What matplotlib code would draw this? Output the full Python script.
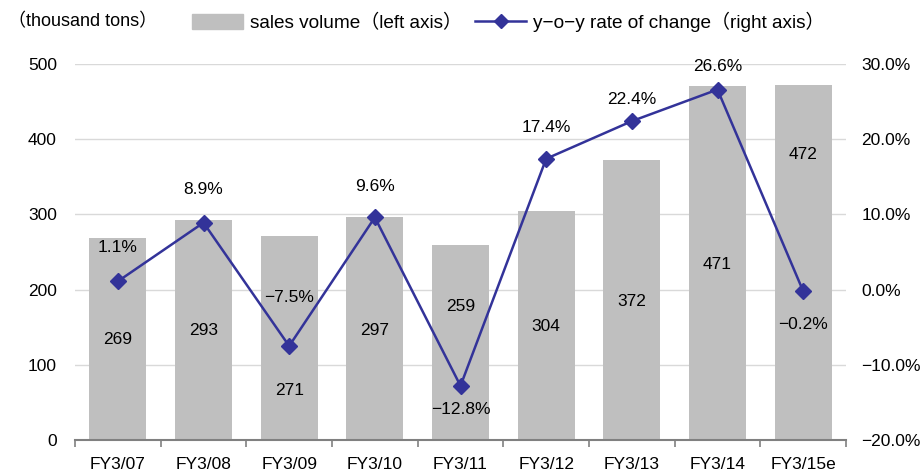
import matplotlib
matplotlib.use("Agg")
import matplotlib.pyplot as plt
from matplotlib.lines import Line2D
from matplotlib.patches import Patch

categories = ["FY3/07", "FY3/08", "FY3/09", "FY3/10", "FY3/11",
              "FY3/12", "FY3/13", "FY3/14", "FY3/15e"]
volume = [269, 293, 271, 297, 259, 304, 372, 471, 472]
yoy = [1.1, 8.9, -7.5, 9.6, -12.8, 17.4, 22.4, 26.6, -0.2]
# label placement (layout only)
vol_label_y = [133, 146, 66, 146, 178, 151, 184, 234, 380]
yoy_label_off = [4.5, 4.4, 6.4, 4.1, -3.2, 4.1, 2.9, 3.1, -4.4]

FAM = ['Liberation Sans', 'Noto Sans CJK JP', 'DejaVu Sans']
plt.rcParams['font.family'] = FAM
BAR = "#bfbfbf"
LINE = "#333399"
FS = 12.5

fig = plt.figure(figsize=(9.21, 4.72), dpi=100)
ax = fig.add_axes([75/921, 32/472, 771/921, 376/472])
x = list(range(len(categories)))
ax.bar(x, volume, width=0.665, color=BAR, zorder=2)
ax.set_xlim(-0.5, len(categories) - 0.5)
ax.set_ylim(0, 500)
ax.set_yticks([0, 100, 200, 300, 400, 500])
ax.grid(axis='y', color='#d9d9d9', linewidth=1, zorder=0)
ax.set_axisbelow(True)
for s in ['top', 'right', 'left']:
    ax.spines[s].set_visible(False)
ax.spines['bottom'].set_color('#808080')
ax.spines['bottom'].set_linewidth(1.5)
ax.set_xticks(x)
ax.set_xticklabels(categories, fontsize=FS)
ax.set_xticks([i - 0.5 for i in range(len(categories) + 1)], minor=True)
ax.tick_params(axis='x', which='major', length=0, pad=12)
ax.tick_params(axis='x', which='minor', length=5, color='#808080', width=1.2)
ax.tick_params(axis='y', length=0, labelsize=FS, pad=13)

for xi, v, ly in zip(x, volume, vol_label_y):
    ax.text(xi, ly, f"{v}", ha='center', va='center', fontsize=FS, zorder=5)

ax2 = ax.twinx()
ax2.set_ylim(-20, 30)
ax2.set_yticks([-20, -10, 0, 10, 20, 30])
ax2.set_yticklabels([f"{t:.1f}%".replace('-', '\u2212') for t in [-20, -10, 0, 10, 20, 30]])
ax2.tick_params(axis='y', length=0, labelsize=FS, pad=11)
for s in ['top', 'right', 'left', 'bottom']:
    ax2.spines[s].set_visible(False)
ax2.plot(x, yoy, color=LINE, linewidth=1.8, marker='D', markersize=8, zorder=4)
for xi, v, off in zip(x, yoy, yoy_label_off):
    ax2.text(xi, v + off, f"{v:.1f}%".replace('-', '\u2212'), ha='center',
             va='center', fontsize=FS, zorder=5)

fig.text(8/921, 1 - 22/472, "\uff08thousand tons\uff09", fontsize=13, va='center', ha='left')
handles = [Patch(color=BAR), Line2D([0], [0], color=LINE, lw=1.8, marker='D', markersize=7)]
fig.legend(handles, ["sales volume\uff08left axis\uff09", "y\u2212o\u2212y rate of change\uff08right axis\uff09"],
           loc='center left', bbox_to_anchor=(184/921, 1 - 22/472), ncol=2, frameon=False,
           fontsize=13.7, handlelength=2.7, handleheight=0.8, columnspacing=0.7,
           handletextpad=0.35, borderaxespad=0)

fig.savefig("out.png", dpi=100)
